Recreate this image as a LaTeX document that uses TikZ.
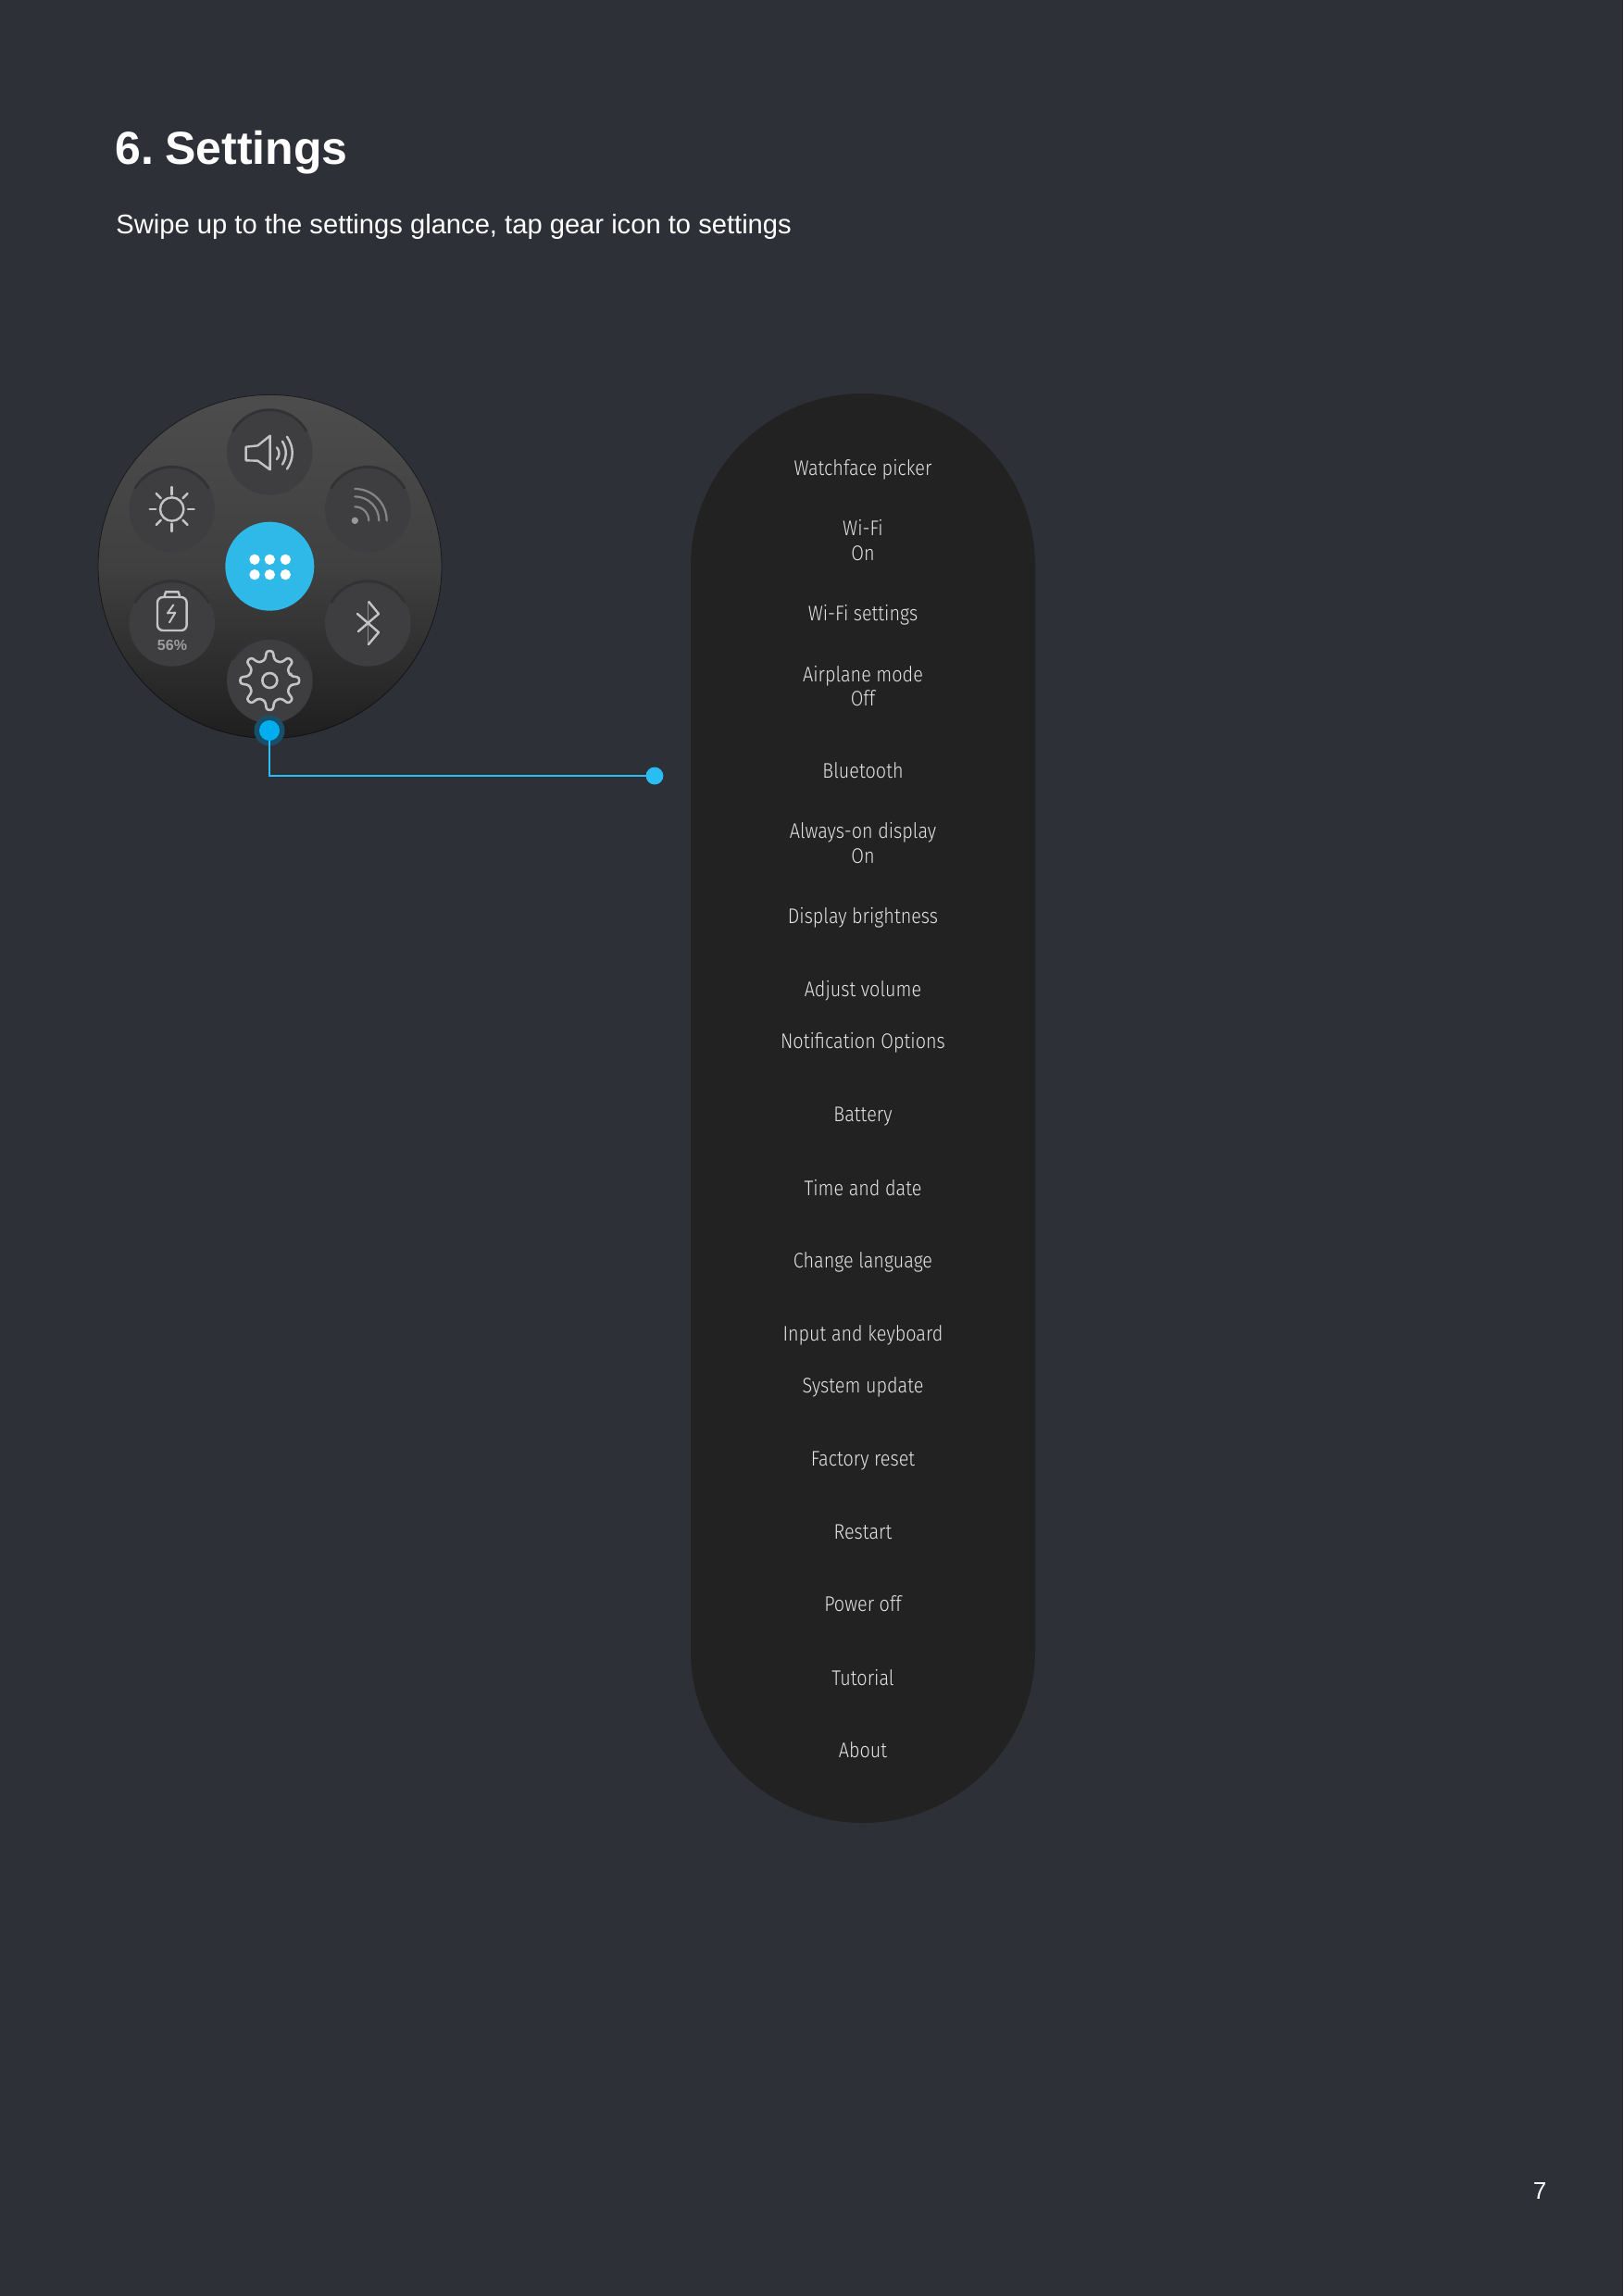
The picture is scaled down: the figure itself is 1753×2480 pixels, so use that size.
\documentclass[tikz,border=0pt]{standalone}
\usepackage{fontspec}
\usetikzlibrary{calc}
\setmainfont{Liberation Sans}
\newfontfamily\uifont[FakeStretch=0.87]{Fira Sans Light}
\definecolor{pagebg}{HTML}{2D3137}
\definecolor{pillbg}{HTML}{222222}
\definecolor{wellc}{HTML}{3E3E41}
\definecolor{wellshade}{HTML}{323234}
\definecolor{iconc}{HTML}{C4C4C4}
\definecolor{accent}{HTML}{2FB9E9}
\definecolor{tapblue}{HTML}{00AEEF}
\definecolor{haloc}{HTML}{17506B}
\definecolor{linkc}{HTML}{29BEF3}
\tikzset{
  menu/.style={anchor=base,inner sep=0pt,text=black!10,font=\uifont\fontsize{11.4}{13}\selectfont},
  well/.style={fill=wellc},
  icon/.style={draw=iconc,line width=1.2pt,line cap=round,line join=round},
  dimicon/.style={draw=black!48,line width=1.1pt,line cap=round},
  dotmark/.style={circle,inner sep=0pt,draw=none},
}
\begin{document}
\begin{tikzpicture}[x=0.5pt,y=-0.5pt]
\fill[pagebg] (0,0) rectangle (1753,2480);
\node[anchor=base west,inner sep=0pt,text=white,font=\bfseries\fontsize{25}{30}\selectfont] (title) at (124,177) {6.\hspace{6.2pt}Settings};
\node[anchor=base west,inner sep=0pt,text=white,font=\fontsize{14.58}{18}\selectfont] (subtitle) at (125,252.5) {Swipe up to the settings glance, tap gear icon to settings};
\node[anchor=base,inner sep=0pt,text=white,font=\fontsize{13}{16}\selectfont] (pageno) at (1663,2375) {7};
% pill
\fill[pillbg,rounded corners=93pt] (746,425) rectangle (1118,1969);
\node[menu] (m1) at (932,513.6) {Watchface picker};
\node[menu] (m2) at (932,578.6) {Wi-Fi};
\node[menu] (m3) at (932,605.4) {On};
\node[menu] (m4) at (932,670.7) {Wi-Fi settings};
\node[menu] (m5) at (932,736) {Airplane mode};
\node[menu] (m6) at (932,762.5) {Off};
\node[menu] (m7) at (932,840) {Bluetooth};
\node[menu] (m8) at (932,905.7) {Always-on display};
\node[menu] (m9) at (932,932.5) {On};
\node[menu] (m10) at (932,997.9) {Display brightness};
\node[menu] (m11) at (932,1076.8) {Adjust volume};
\node[menu] (m12) at (932,1132.9) {Notification Options};
\node[menu] (m13) at (932,1211.8) {Battery};
\node[menu] (m14) at (932,1291) {Time and date};
\node[menu] (m15) at (932,1369.6) {Change language};
\node[menu] (m16) at (932,1448.2) {Input and keyboard};
\node[menu] (m17) at (932,1504.3) {System update};
\node[menu] (m18) at (932,1583) {Factory reset};
\node[menu] (m19) at (932,1662) {Restart};
\node[menu] (m20) at (932,1740.6) {Power off};
\node[menu] (m21) at (932,1820) {Tutorial};
\node[menu] (m22) at (932,1898.8) {About};
% glance
\shade[top color=black!70!white,bottom color=black!88!white,middle color=black!75!white] (291.5,612) circle[radius=185.5];
\draw[black,line width=0.4pt,opacity=0.55] (291.5,612) circle[radius=185.5];
\begin{scope}[shift={(90,410)},scale=1/3]
  % wells
  \foreach \cx/\cy in {604/235,287/420,922/420,287/790,922/790,604/975}{
    \fill[well] (\cx,\cy) circle[radius=139];
    \draw[wellshade,line width=1.4pt,line cap=round] ($(\cx,\cy)+(-150:137)$) arc[start angle=-150,end angle=-30,radius=137];
  }
  % centre
  \fill[accent] (604,605) circle[radius=144];
  \foreach \cx in {555,604,655}\foreach \cy in {583,632}{\fill[white] (\cx,\cy) circle[radius=17];}
  % speaker
  \draw[icon] (527,218) -- (565,214) -- (605,182) -- (605,292) -- (565,263) -- (527,262) -- cycle;
  \draw[icon] (627,220) .. controls (637,232) and (637,246) .. (627,258);
  \draw[icon] (645,200) .. controls (660,225) and (660,250) .. (645,275);
  \draw[icon] (660,185) .. controls (683,220) and (683,255) .. (660,290);
  % sun
  \draw[icon] (287,420) circle[radius=38];
  \foreach \a/\ra/\rb in {0/52/72,90/47/72,180/52/72,270/47/72,45/50/72,135/50/72,225/50/72,315/50/72}{
    \draw[icon] ($(287,420)+(\a:\ra)$) -- ($(287,420)+(\a:\rb)$);
  }
  % wifi
  \fill[black!40] (880,457) circle[radius=11];
  \draw[dimicon] (880,412) arc[start angle=-90,end angle=0,radius=45];
  \draw[dimicon] (880,379) arc[start angle=-90,end angle=0,radius=78];
  \draw[dimicon] (880,354) arc[start angle=-90,end angle=0,radius=103];
  % battery
  \draw[icon,rounded corners=3pt] (240,705) rectangle (335,813);
  \draw[icon] (262,705) -- (267,688) -- (308,688) -- (313,705);
  \draw[icon,line width=1pt] (292,730) -- (273,757) -- (298,755) -- (279,787);
  \node[inner sep=0pt,text=black!38,font=\bfseries\fontsize{8}{10}\selectfont] (battlabel) at (288,860) {56\%};
  % bluetooth
  \draw[draw=black!45,line width=0.8pt] (922,720) -- (922,858);
  \draw[icon] (925,720) -- (957,759) -- (891,816);
  \draw[icon] (888,759) -- (957,819) -- (924,858);
  % gear
  \begin{scope}[shift={(604,975)}]
    \draw[icon,line width=1.3pt,rounded corners=1.2pt] (-12:70)
      \foreach \k in {0,...,7}{ -- ({\k*45-12}:70) -- ({\k*45-6}:96) -- ({\k*45+6}:96) -- ({\k*45+12}:70) -- ({\k*45+22.5}:66) } -- cycle;
    \draw[icon,line width=1.3pt] (0,0) circle[radius=24];
  \end{scope}
\end{scope}
% tap indicator and connector
\node[dotmark,fill=haloc,minimum size=16.5pt] (halo) at (291,789) {};
\node[dotmark,fill=tapblue,minimum size=11pt] (tap) at (291,789) {};
\node[dotmark,fill=linkc,minimum size=9.4pt] (target) at (707,838) {};
\draw[linkc,line width=1pt] (tap.south) |- (target.center);
\end{tikzpicture}
\end{document}
